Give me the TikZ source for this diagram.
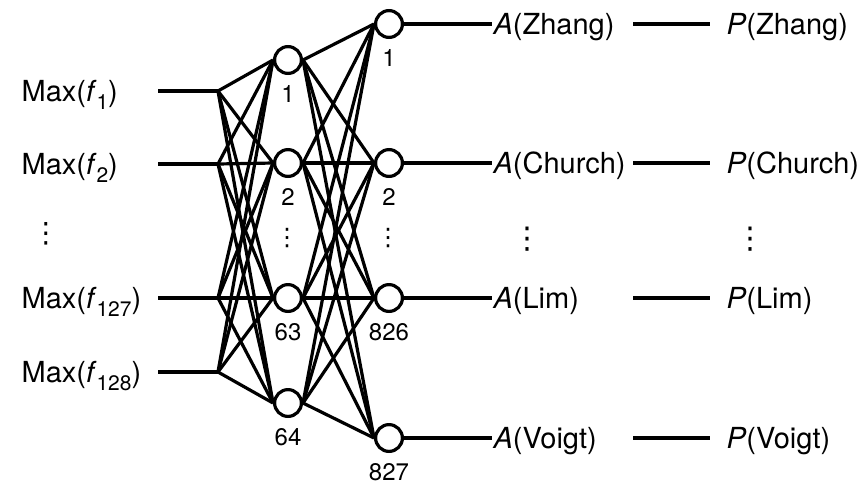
\documentclass[tikz,border=0pt]{standalone}
\usepackage{fontspec}
\setmainfont{TeX Gyre Heros}
\newfontfamily\symfont{DejaVu Sans}
% lowered index digits after an italic symbol
\newcommand{\lowsub}[1]{\raisebox{-4pt}{\fontsize{10.5}{10.5}\selectfont #1}}
% vertical ellipsis glyph
\newcommand{\vdotsym}[1]{{\symfont\fontsize{#1}{#1}\selectfont ⋮}}
\begin{document}
\begin{tikzpicture}[x=0.5pt,y=-0.5pt,line width=1.6pt,
  font=\fontsize{14.5}{17}\selectfont,
  unit/.style={circle,draw,fill=white,minimum size=13.4pt,inner sep=0pt,
    label={[num,label distance=4.5pt]below:#1}},
  num/.style={font=\fontsize{12}{14}\selectfont,inner sep=0pt},
  lbl/.style={inner sep=0pt,text height=10.4pt,text depth=0pt,anchor=west},
  plbl/.style={lbl,inner xsep=7.5pt},
  dotsnode/.style={inner sep=0pt}]
\useasboundingbox (0,0) rectangle (866,483);

% input labels, wires and fan points
\foreach \i/\y/\s in {1/91/1, 2/164/2, 3/298/127, 4/372/128}{
  \node[lbl] (in\i) at (20,\y) {Max(\textit{f}\lowsub{\s})};
  \coordinate (w\i) at (158,\y);
  \coordinate (f\i) at (218,\y);
}
\node[dotsnode] (indots) at (46,234) {\vdotsym{14}};

% hidden layer
\node[unit=1]  (h1) at (288,60)  {};
\node[unit=2]  (h2) at (288,163) {};
\node[unit=63] (h3) at (288,298) {};
\node[unit=64] (h4) at (288,403) {};
\node[dotsnode] (hdots) at (287,238) {\vdotsym{12}};

% output layer
\node[unit=1]   (o1) at (389,24)  {};
\node[unit=2]   (o2) at (389,163) {};
\node[unit=826] (o3) at (389,298) {};
\node[unit=827] (o4) at (389,438) {};
\node[dotsnode] (odots) at (388,238) {\vdotsym{12}};

% connections
\foreach \i in {1,...,4}{
  \draw (w\i) -- (f\i);
  \foreach \j in {1,...,4}{
    \draw (f\i) -- (h\j.west);
    \draw (h\i.east) -- (o\j.west);
  }
}

% activation and probability labels
\foreach \i/\y/\n in {1/24/Zhang, 2/163/Church, 3/298/Lim, 4/438/Voigt}{
  \node[lbl]  (a\i) at (492,\y) {\textit{A}(\n)};
  \node[plbl] (p\i) at (710,\y) {\textit{P}(\n)};
  \coordinate (s\i) at (633,\y);
  \draw (o\i.east) -- (a\i.west);
  \draw (s\i) -- (p\i.west);
}
\node[dotsnode] (adots) at (527,239) {\vdotsym{15}};
\node[dotsnode] (pdots) at (750,239) {\vdotsym{15}};
\end{tikzpicture}
\end{document}
